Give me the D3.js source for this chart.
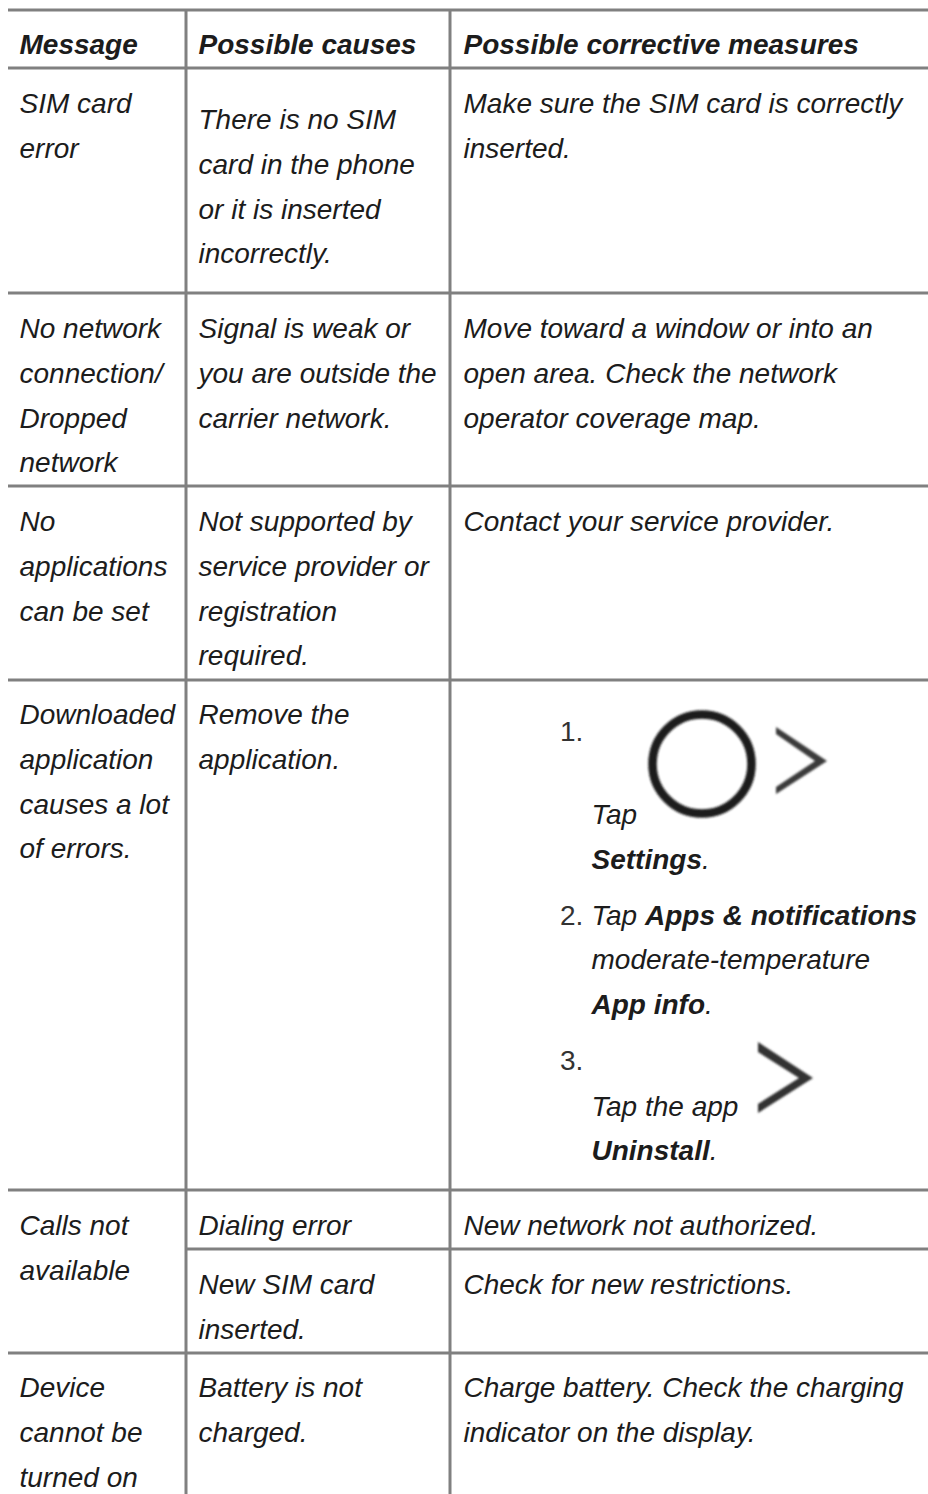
<!DOCTYPE html>
<html><head><meta charset="utf-8">
<script src="https://cdn.jsdelivr.net/npm/d3@7"></script>
<style>html,body{margin:0;padding:0;background:#fff}svg{display:block}text{font-family:"Liberation Sans",Arial,sans-serif;font-size:28px;font-style:italic;fill:#1c1c1c}</style>
</head><body><svg id="c" width="928" height="1494"></svg>
<script>
const headers=["Message","Possible causes","Possible corrective measures"];
const messages=[["SIM card","error"],["No network","connection/","Dropped","network"],["No","applications","can be set"],["Downloaded","application","causes a lot","of errors."],["Calls not","available"],["Device","cannot be","turned on"]];
const causes=[["There is no SIM","card in the phone","or it is inserted","incorrectly."],["Signal is weak or","you are outside the","carrier network."],["Not supported by","service provider or","registration","required."],["Remove the","application."],["Dialing error"],["New SIM card","inserted."],["Battery is not","charged."]];
const measures=[["Make sure the SIM card is correctly","inserted."],["Move toward a window or into an","open area. Check the network","operator coverage map."],["Contact your service provider."],["New network not authorized."],["Check for new restrictions."],["Charge battery. Check the charging","indicator on the display."]];
const steps=[{n:"1.",lines:[["Tap",0]],bold:"Settings"},{n:"2.",lines:[["Tap ",0],["Apps & notifications",1]],rest:"moderate-temperature",bold:"App info"},{n:"3.",lines:[["Tap the app",0]],bold:"Uninstall"}];

const L={lh:44.8,cols:[19.5,198.5,463.5],rules:[10,68,293,486,680,1190,1353],vert:[186,450],
 headY:54,msgY:[113,338,531,724,1235,1397],causeY:[129,338,531,724,1235,1294,1397],measY:[113,338,531,1235,1294,1397]};
const svg=d3.select("#c");
const defs=svg.append("defs");
defs.append("filter").attr("id","soft").append("feGaussianBlur").attr("stdDeviation",0.9);
const rule=svg.append("g").attr("stroke","#808080").attr("stroke-width",3);
rule.selectAll(".h").data(L.rules).join("line").attr("x1",8).attr("x2",928).attr("y1",d=>d).attr("y2",d=>d);
rule.append("line").attr("x1",L.vert[0]).attr("x2",928).attr("y1",1249).attr("y2",1249);
rule.selectAll(".v").data(L.vert).join("line").attr("x1",d=>d).attr("x2",d=>d).attr("y1",10).attr("y2",1494);

svg.append("g").selectAll("text").data(headers).join("text").attr("x",(d,i)=>L.cols[i]).attr("y",L.headY).style("font-weight","bold").text(d=>d);
function block(data,x,ys){
  const g=svg.append("g");
  data.forEach((lines,i)=>{
    g.selectAll(null).data(lines).join("text").attr("x",x).attr("y",(d,j)=>ys[i]+j*L.lh).text(d=>d);
  });
}
block(messages,L.cols[0],L.msgY);
block(causes,L.cols[1],L.causeY);
block(measures,L.cols[2],L.measY);

// numbered steps
const st=svg.append("g");
const numX=560,txtX=591.5;
const num=(s,y)=>st.append("text").attr("x",numX).attr("y",y).style("font-style","normal").style("fill","#333").text(s);
const boldLine=(s,y)=>{const t=st.append("text").attr("x",txtX).attr("y",y);t.append("tspan").style("font-weight","bold").text(s);t.append("tspan").text(".");};
num(steps[0].n,741);
st.append("text").attr("x",txtX).attr("y",824).text(steps[0].lines[0][0]);
boldLine(steps[0].bold,869);
num(steps[1].n,925);
const t2=st.append("text").attr("x",txtX).attr("y",925);
steps[1].lines.forEach(l=>t2.append("tspan").style("font-weight",l[1]?"bold":"normal").style("white-space","pre").text(l[0]));
st.append("text").attr("x",txtX).attr("y",969).text(steps[1].rest);
boldLine(steps[1].bold,1014);
num(steps[2].n,1070);
st.append("text").attr("x",txtX).attr("y",1116).text(steps[2].lines[0][0]);
boldLine(steps[2].bold,1160);

// icons
const icons=svg.append("g").attr("filter","url(#soft)");
icons.append("circle").attr("cx",702).attr("cy",764).attr("r",49.5).attr("fill","none").attr("stroke","#1a1a1a").attr("stroke-width",8.5);
const chev=d3.line().curve(d3.curveLinearClosed);
icons.append("path").attr("d",chev([[776,727],[827,761],[776,794],[776,787],[815,761],[776,734]])).attr("fill","#3a3a3a");
icons.append("path").attr("d",chev([[758,1042],[813,1078],[758,1113],[758,1104],[799,1078],[758,1052]])).attr("fill","#333");
</script></body></html>
